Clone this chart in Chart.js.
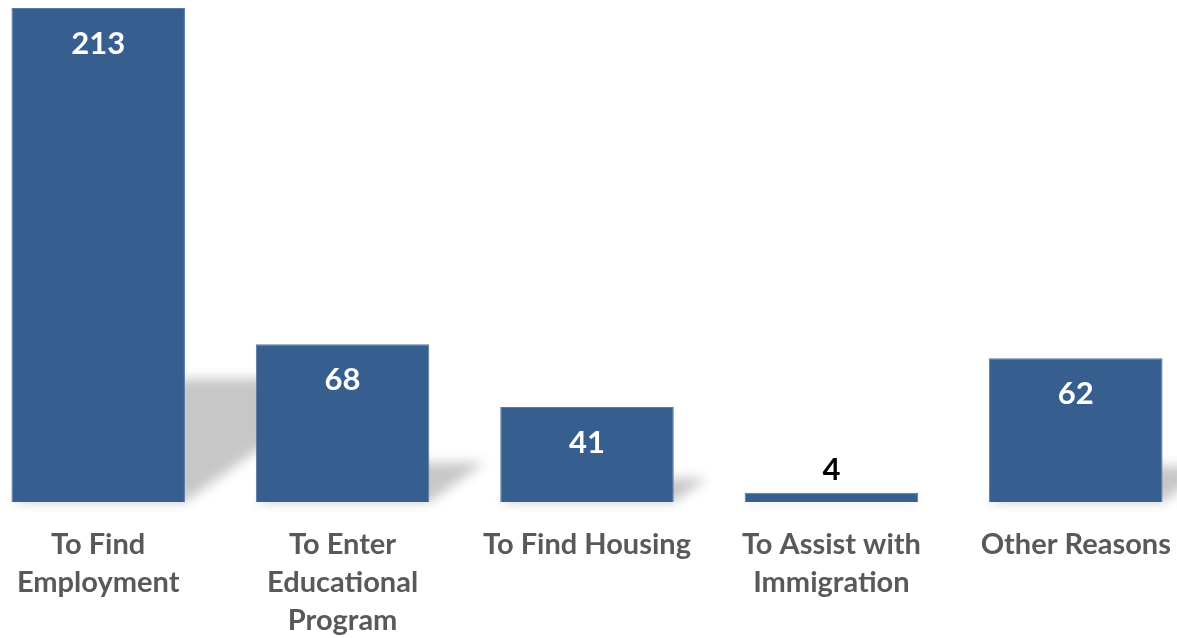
<!DOCTYPE html>
<html>
<head>
<meta charset="utf-8">
<script src="https://cdn.jsdelivr.net/npm/chart.js@4.4.1/dist/chart.umd.min.js"></script>
<style>
  html, body { margin: 0; padding: 0; background: #fff; overflow: hidden; }
  #wrap { position: absolute; left: -24px; top: 0; width: 1222px; height: 638px; }
</style>
</head>
<body>
<div id="wrap"><canvas id="reasons"></canvas></div>
<script>
'use strict';
const categories = [
    ['To Find', 'Employment'],
    ['To Enter', 'Educational', 'Program'],
    ['To Find Housing'],
    ['To Assist with', 'Immigration'],
    ['Other Reasons']
];
const counts = [213, 68, 41, 4, 62];

// soft slanted shadow behind each bar
const shadowPlugin = {
    id: 'barShadow',
    beforeDatasetsDraw(chart) {
        const ctx = chart.ctx;
        const meta = chart.getDatasetMeta(0);
        ctx.save();
        ctx.filter = 'blur(6px)';
        ctx.fillStyle = 'rgba(0,0,0,0.22)';
        meta.data.forEach(function (bar) {
            const h = bar.base - bar.y;
            const left = bar.x - bar.width / 2;
            const right = bar.x + bar.width / 2;
            const dx = h * 0.35, dy = h * 0.25;
            ctx.beginPath();
            ctx.moveTo(left, bar.base);
            ctx.lineTo(right, bar.base);
            ctx.lineTo(right + dx, bar.base - dy);
            ctx.lineTo(left + dx, bar.base - dy);
            ctx.closePath();
            ctx.fill();
        });
        ctx.restore();
    }
};

const valueLabels = {
    id: 'valueLabels',
    afterDatasetsDraw(chart) {
        const ctx = chart.ctx;
        const meta = chart.getDatasetMeta(0);
        ctx.save();
        ctx.font = 'bold 31px Lato';
        ctx.textAlign = 'center';
        ctx.textBaseline = 'middle';
        meta.data.forEach(function (bar, i) {
            const h = bar.base - bar.y;
            if (h > 60) {
                ctx.fillStyle = '#ffffff';
                ctx.fillText(counts[i], bar.x, bar.y + 36);
            } else {
                ctx.fillStyle = '#000000';
                ctx.fillText(counts[i], bar.x, bar.y - 23);
            }
        });
        ctx.restore();
    }
};

new Chart(document.getElementById('reasons'), {
    type: 'bar',
    data: {
        labels: categories,
        datasets: [{
            data: counts,
            backgroundColor: '#365f8f',
            borderColor: '#5678a3',
            borderWidth: 1,
            barPercentage: 0.71,
            categoryPercentage: 1.0
        }]
    },
    options: {
        responsive: true,
        maintainAspectRatio: false,
        animation: false,
        layout: { padding: { top: 8, left: 0, right: 0, bottom: 0 } },
        plugins: { legend: { display: false }, tooltip: { enabled: false } },
        scales: {
            x: {
                grid: { display: false },
                border: { display: false },
                afterFit: function (scale) { scale.height = 136; },
                ticks: {
                    color: '#595959',
                    font: { family: 'Lato', size: 29, weight: 'bold', lineHeight: 1.31 },
                    padding: 16,
                    maxRotation: 0,
                    autoSkip: false
                }
            },
            y: {
                display: false,
                min: 0,
                max: 213
            }
        }
    },
    plugins: [shadowPlugin, valueLabels]
});
</script>
</body>
</html>
